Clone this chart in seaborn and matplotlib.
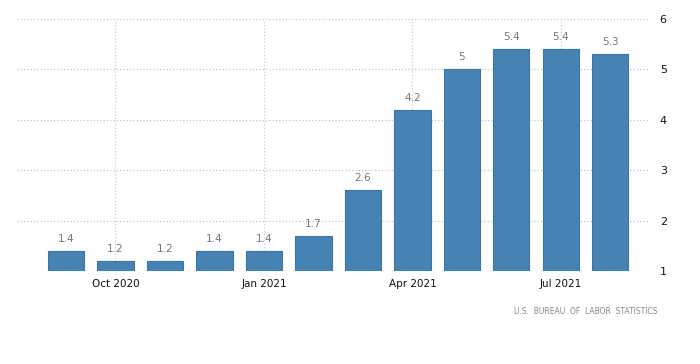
import pandas as pd
import seaborn as sns
import matplotlib.pyplot as plt

# Data
months = ['Sep 2020', 'Oct 2020', 'Nov 2020', 'Dec 2020', 'Jan 2021', 'Feb 2021',
          'Mar 2021', 'Apr 2021', 'May 2021', 'Jun 2021', 'Jul 2021', 'Aug 2021']
values = [1.4, 1.2, 1.2, 1.4, 1.4, 1.7, 2.6, 4.2, 5.0, 5.4, 5.4, 5.3]
tick_months = ['Oct 2020', 'Jan 2021', 'Apr 2021', 'Jul 2021']
y_ticks = [1, 2, 3, 4, 5, 6]

df = pd.DataFrame({'month': months, 'value': values})

sns.set_style('white')
plt.rcParams['font.family'] = ['DejaVu Sans']

fig = plt.figure(figsize=(7, 3.64), dpi=100)
ax = fig.add_axes([17 / 700, 1 - 271 / 364, (650 - 17) / 700, (271 - 19) / 364])

sns.barplot(data=df, x='month', y='value', color='#4682b4', width=0.73,
            edgecolor='#3d74a6', linewidth=0.8, saturation=1, ax=ax)

ax.set_ylim(1, 6)
ax.set_xlim(-0.99, 11.8)

# Dotted grid
for y in y_ticks:
    ax.axhline(y, color='#c4c4c4', linestyle=':', linewidth=0.9, zorder=0)
tick_pos = [months.index(m) for m in tick_months]
for x in tick_pos:
    ax.axvline(x, color='#cccccc', linestyle=':', linewidth=0.9, zorder=0)

ax.set_xticks(tick_pos)
ax.set_xticklabels(tick_months)
ax.set_yticks(y_ticks)
ax.set_yticklabels([str(v) for v in y_ticks])
ax.yaxis.tick_right()
ax.tick_params(axis='x', length=3, color='#cccccc', labelsize=7.5, labelcolor='#111111', pad=3)
ax.tick_params(axis='y', length=0, labelsize=8, labelcolor='#111111', pad=7)
ax.set_xlabel('')
ax.set_ylabel('')
for s in ax.spines.values():
    s.set_visible(False)

# Value labels
for i, v in enumerate(values):
    label = ('%g' % v)
    ax.annotate(label, (i, v), xytext=(0, 5), textcoords='offset points',
                ha='center', va='bottom', fontsize=7.5, color='#777777', clip_on=False)

fig.text(657 / 700, 1 - 311 / 364, 'U.S.  BUREAU  OF  LABOR  STATISTICS', ha='right', va='center',
         fontsize=5.5, color='#888888')

fig.savefig('out.png', dpi=100)
